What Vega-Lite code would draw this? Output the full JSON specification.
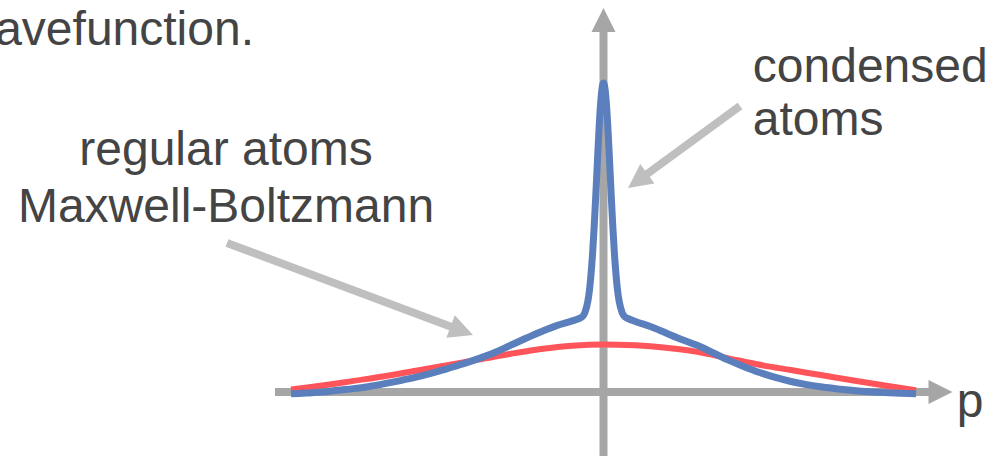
{
  "$schema": "https://vega.github.io/schema/vega-lite/v6.json",
  "width": 1001,
  "height": 456,
  "autosize": {"type": "none"},
  "padding": 0,
  "background": "white",
  "config": {"view": {"stroke": null}},
  "encoding": {
    "x": {"field": "x", "type": "quantitative", "scale": {"domain": [-1.9312, 1.272], "nice": false, "zero": false}, "axis": null},
    "y": {"field": "y", "type": "quantitative", "scale": {"domain": [-0.2071, 1.2686], "nice": false, "zero": false}, "axis": null}
  },
  "layer": [
    {
      "data": {"values": [
        {"x": -1.0512, "y": 0, "x2": 1.0512, "y2": 0},
        {"x": 0, "y": -0.25, "x2": 0, "y2": 1.165}
      ]},
      "mark": {"type": "rule", "color": "#a6a6a6", "strokeWidth": 8},
      "encoding": {"x2": {"field": "x2"}, "y2": {"field": "y2"}}
    },
    {
      "data": {"values": [
        {"x": 1.0784, "y": 0, "ang": 0},
        {"x": 0, "y": 1.2039, "ang": -90}
      ]},
      "mark": {"type": "point", "shape": "M-1,-1L1,0L-1,1Z", "filled": true, "opacity": 1, "color": "#a6a6a6", "size": 576, "strokeWidth": 0},
      "encoding": {"angle": {"field": "ang", "type": "quantitative", "scale": null}}
    },
    {
      "data": {"values": [
        {"x": -1.2048, "y": 0.4822, "x2": -0.4534, "y2": 0.1981},
        {"x": 0.4368, "y": 0.9256, "x2": 0.1094, "y2": 0.6832}
      ]},
      "mark": {"type": "rule", "color": "#bfbfbf", "strokeWidth": 8},
      "encoding": {"x2": {"field": "x2"}, "y2": {"field": "y2"}}
    },
    {
      "data": {"values": [
        {"x": -0.4534, "y": 0.1981, "ang": 20.5},
        {"x": 0.1094, "y": 0.6832, "ang": 143.8}
      ]},
      "mark": {"type": "point", "shape": "M-1,-1L1,0L-1,1Z", "filled": true, "opacity": 1, "color": "#bfbfbf", "size": 576, "strokeWidth": 0},
      "encoding": {"angle": {"field": "ang", "type": "quantitative", "scale": null}}
    },
    {
      "data": {"values": [
        {"x": -1.0, "y": 0.008}, {"x": -0.9, "y": 0.021}, {"x": -0.8, "y": 0.036},
        {"x": -0.7, "y": 0.051}, {"x": -0.6, "y": 0.069}, {"x": -0.5, "y": 0.087},
        {"x": -0.4, "y": 0.105}, {"x": -0.3, "y": 0.123}, {"x": -0.2, "y": 0.139},
        {"x": -0.1, "y": 0.150}, {"x": 0.0, "y": 0.154}, {"x": 0.1, "y": 0.151},
        {"x": 0.2, "y": 0.143}, {"x": 0.3, "y": 0.130}, {"x": 0.4, "y": 0.109},
        {"x": 0.5, "y": 0.088}, {"x": 0.6, "y": 0.071}, {"x": 0.7, "y": 0.054},
        {"x": 0.8, "y": 0.037}, {"x": 0.9, "y": 0.021}, {"x": 1.0, "y": 0.006}
      ]},
      "mark": {"type": "line", "color": "#ff5459", "strokeWidth": 6, "interpolate": "monotone"},
      "encoding": {"order": {"field": "x", "type": "quantitative"}}
    },
    {
      "data": {"values": [
        {"x": -1.0, "y": -0.006}, {"x": -0.95, "y": -0.003}, {"x": -0.9, "y": 0.0},
        {"x": -0.85, "y": 0.006}, {"x": -0.8, "y": 0.011}, {"x": -0.75, "y": 0.018},
        {"x": -0.7, "y": 0.027}, {"x": -0.65, "y": 0.037}, {"x": -0.6, "y": 0.048},
        {"x": -0.55, "y": 0.061}, {"x": -0.5, "y": 0.076}, {"x": -0.45, "y": 0.091},
        {"x": -0.4, "y": 0.108}, {"x": -0.35, "y": 0.127}, {"x": -0.3, "y": 0.150},
        {"x": -0.25, "y": 0.173}, {"x": -0.2, "y": 0.195}, {"x": -0.15, "y": 0.215},
        {"x": -0.1, "y": 0.230}, {"x": -0.08, "y": 0.237}, {"x": -0.07, "y": 0.242},
        {"x": -0.06, "y": 0.256}, {"x": -0.05, "y": 0.294}, {"x": -0.045, "y": 0.329},
        {"x": -0.04, "y": 0.380}, {"x": -0.035, "y": 0.447}, {"x": -0.03, "y": 0.532},
        {"x": -0.025, "y": 0.630}, {"x": -0.02, "y": 0.736}, {"x": -0.015, "y": 0.838},
        {"x": -0.01, "y": 0.923}, {"x": -0.005, "y": 0.980}, {"x": 0.0, "y": 1.0},
        {"x": 0.005, "y": 0.980}, {"x": 0.01, "y": 0.923}, {"x": 0.015, "y": 0.838},
        {"x": 0.02, "y": 0.736}, {"x": 0.025, "y": 0.630}, {"x": 0.03, "y": 0.532},
        {"x": 0.035, "y": 0.447}, {"x": 0.04, "y": 0.380}, {"x": 0.045, "y": 0.329},
        {"x": 0.05, "y": 0.294}, {"x": 0.06, "y": 0.256}, {"x": 0.07, "y": 0.242},
        {"x": 0.08, "y": 0.237}, {"x": 0.1, "y": 0.229}, {"x": 0.15, "y": 0.212},
        {"x": 0.2, "y": 0.191}, {"x": 0.25, "y": 0.170}, {"x": 0.3, "y": 0.151},
        {"x": 0.35, "y": 0.127}, {"x": 0.4, "y": 0.103}, {"x": 0.45, "y": 0.082},
        {"x": 0.5, "y": 0.063}, {"x": 0.55, "y": 0.047}, {"x": 0.6, "y": 0.034},
        {"x": 0.65, "y": 0.024}, {"x": 0.7, "y": 0.016}, {"x": 0.75, "y": 0.010},
        {"x": 0.8, "y": 0.005}, {"x": 0.85, "y": 0.001}, {"x": 0.9, "y": -0.002},
        {"x": 0.95, "y": -0.004}, {"x": 1.0, "y": -0.006}
      ]},
      "mark": {"type": "line", "color": "#5b7fbc", "strokeWidth": 7, "interpolate": "monotone"},
      "encoding": {"order": {"field": "x", "type": "quantitative"}}
    },
    {
      "data": {"values": [
        {"x": -1.208, "y": 0.7346, "label": "regular atoms"},
        {"x": -1.208, "y": 0.5511, "label": "Maxwell-Boltzmann"}
      ]},
      "mark": {"type": "text", "align": "center", "baseline": "alphabetic", "font": "Liberation Sans", "fontSize": 48, "color": "#444444"},
      "encoding": {"text": {"field": "label"}}
    },
    {
      "data": {"values": [
        {"x": -2.0576, "y": 1.123, "label": "wavefunction."},
        {"x": 0.4778, "y": 1.0042, "label": "condensed"},
        {"x": 0.4778, "y": 0.8317, "label": "atoms"},
        {"x": 1.1302, "y": -0.0799, "label": "p"}
      ]},
      "mark": {"type": "text", "align": "left", "baseline": "alphabetic", "font": "Liberation Sans", "fontSize": 48, "color": "#444444"},
      "encoding": {"text": {"field": "label"}}
    }
  ]
}
